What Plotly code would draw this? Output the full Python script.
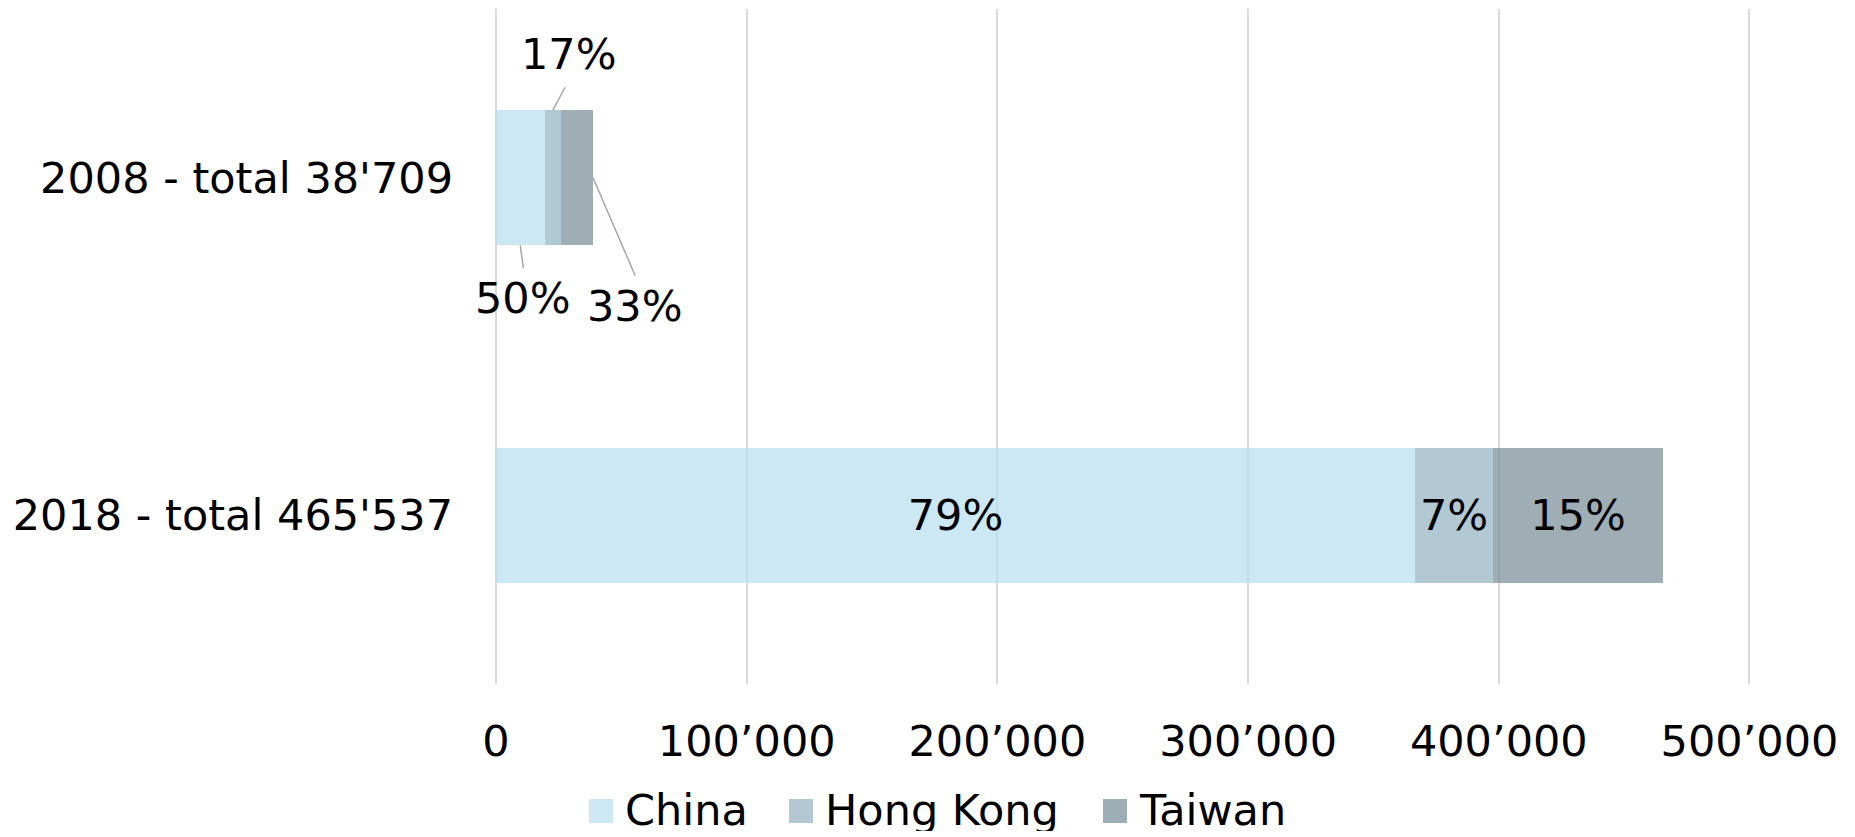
import plotly.graph_objects as go

# Data
categories = ["2008 - total 38'709", "2018 - total 465'537"]
totals = [38709, 465537]
china = [19355, 366600]
hong_kong = [6580, 31100]
taiwan = [12774, 67837]
series_names = ["China", "Hong Kong", "Taiwan"]
x_tick_values = [0, 100000, 200000, 300000, 400000, 500000]
x_tick_labels = ["0", "100’000", "200’000", "300’000", "400’000", "500’000"]

# Styling
FONT = "DejaVu Sans"
FS = 43
solid_colors = ["#CCE8F5", "#B3C8D3", "#9FADB5"]
bar_colors = ["rgba(182,222,241,0.7)", "rgba(146,176,192,0.7)", "rgba(118,138,149,0.7)"]
LEADER = "#A6A6A6"

W, H = 1855, 837
X_MIN, X_MAX = -800, 501000          # a little slack so the 0 and 500'000 gridlines are drawn
PX_PER_UNIT = 1253.5 / 500000
ZERO_PX = 496
M_L = round(ZERO_PX + X_MIN * PX_PER_UNIT)
M_R = round(W - (ZERO_PX + X_MAX * PX_PER_UNIT))
M_T, M_B = 9, 153
BAR_W = 0.4

series = [china, hong_kong, taiwan]
ypos = list(range(len(categories)))


def pct(v, t):
    return f"{round(v / t * 100)}%"


fig = go.Figure()
for name, vals, col in zip(series_names, series, bar_colors):
    # only the large bar carries inside labels; the small one is labelled with leaders
    labels = ["" if i == 0 else pct(v, totals[i]) for i, v in enumerate(vals)]
    fig.add_trace(go.Bar(
        name=name, x=vals, y=ypos, orientation="h", width=BAR_W,
        marker=dict(color=col, line=dict(width=0)),
        text=labels, textposition="inside", insidetextanchor="middle",
        textangle=0, constraintext="none",
        textfont=dict(family=FONT, size=FS, color="black"),
        showlegend=False, hoverinfo="skip",
    ))

# Leader-line labels for the 2008 bar
c0, h0, t0, tot0 = china[0], hong_kong[0], taiwan[0], totals[0]
leaders = [
    # (label, head x, head y, arrow dx, arrow dy, text dx, text dy)
    (pct(c0, tot0), c0 / 2, BAR_W / 2, 3.4, 25, 2.4, 56),
    (pct(h0, tot0), c0 + h0 / 2, -BAR_W / 2, 13.4, -25, 16.7, -53),
    (pct(t0, tot0), c0 + h0 + t0, 0, 43, 100, 42, 131),
]
annotations = []
for label, hx, hy, adx, ady, tdx, tdy in leaders:
    annotations.append(dict(
        x=hx, y=hy, xref="x", yref="y", text=" ", font=dict(size=1),
        showarrow=True, arrowhead=0, arrowwidth=1.5, arrowcolor=LEADER,
        ax=adx, ay=ady, standoff=0, startstandoff=0,
    ))
    annotations.append(dict(
        x=hx, y=hy, xref="x", yref="y", text=label, showarrow=False,
        xshift=tdx, yshift=-tdy + 3,
        font=dict(family=FONT, size=FS, color="black"),
    ))

# Legend drawn as swatches + labels below the axis
plot_w = W - M_L - M_R
plot_h = H - M_T - M_B
def px_x(px):
    return (px - M_L) / plot_w
def px_y(py):
    return (H - M_B - py) / plot_h

legend_left = [589, 789, 1103]
LEG_Y = 811
SW = 24
shapes = []
for name, col, lx in zip(series_names, solid_colors, legend_left):
    shapes.append(dict(
        type="rect", xref="paper", yref="paper",
        x0=px_x(lx), x1=px_x(lx + SW), y0=px_y(LEG_Y + SW / 2), y1=px_y(LEG_Y - SW / 2),
        fillcolor=col, line=dict(width=0),
    ))
    annotations.append(dict(
        x=px_x(lx + SW + 11), y=px_y(LEG_Y - 1), xref="paper", yref="paper",
        text=name, showarrow=False, xanchor="left", yanchor="middle",
        height=42, valign="middle", borderpad=0,
        font=dict(family=FONT, size=FS, color="black"),
    ))

fig.update_layout(
    barmode="stack",
    width=W, height=H,
    margin=dict(l=M_L, r=M_R, t=M_T, b=M_B, pad=0),
    paper_bgcolor="white", plot_bgcolor="white",
    font=dict(family=FONT, size=FS, color="black"),
    annotations=annotations,
    shapes=shapes,
    showlegend=False,
)
fig.update_xaxes(
    range=[X_MIN, X_MAX], tickvals=x_tick_values, ticktext=x_tick_labels,
    showgrid=True, gridcolor="#D9D9D9", gridwidth=2,
    zeroline=False, showline=False, ticks="",
    ticklabelstandoff=28,
    tickfont=dict(family=FONT, size=FS, color="black"),
)
fig.update_yaxes(
    range=[len(categories) - 0.5, -0.5], tickvals=ypos, ticktext=categories,
    showgrid=False, zeroline=False, showline=False, ticks="",
    ticklabelstandoff=40,
    tickfont=dict(family=FONT, size=FS, color="black"),
)

fig.write_html("out.html")
